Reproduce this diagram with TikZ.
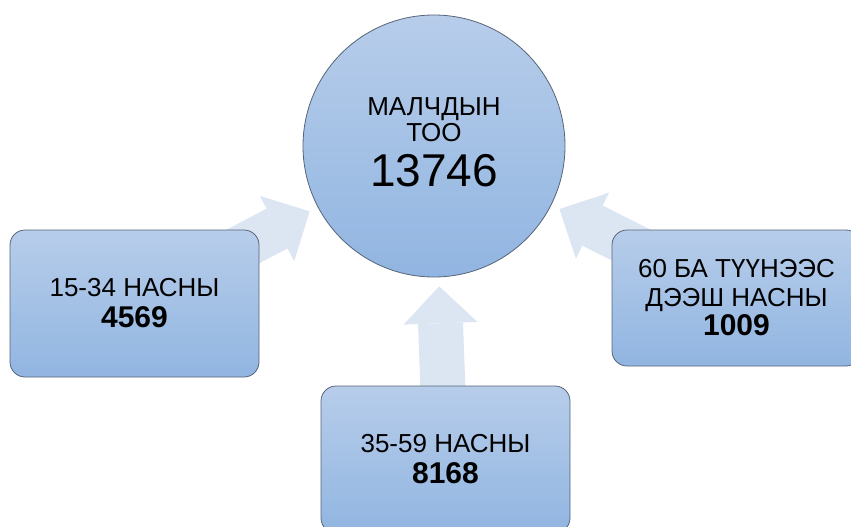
\documentclass[tikz,border=0pt]{standalone}
\usepackage{fontspec}
\setmainfont{Liberation Sans}
\usetikzlibrary{shapes,backgrounds}
\usetikzlibrary{arrows.meta}
\definecolor{fillTop}{RGB}{183,205,234}
\definecolor{fillBot}{RGB}{145,181,225}
\definecolor{edgeGray}{RGB}{85,100,120}
\definecolor{arrowFill}{RGB}{220,230,243}

\begin{document}
\begin{tikzpicture}[x=1pt,y=-1pt,
  agebox/.style={draw=edgeGray, line width=.8pt, rounded corners=15pt, top color=fillTop, bottom color=fillBot,
    minimum width=249pt, minimum height=147pt, inner sep=0pt, align=center, font=\fontsize{26}{31}\selectfont},
  bigarrow/.style={draw=arrowFill, line width=45pt, shorten >=9pt,
    -{Triangle[width=74pt,length=37pt,line width=0pt,fill=arrowFill]}}]
\useasboundingbox (0,0) rectangle (851,527);
\node[draw=edgeGray, line width=.8pt, circle, top color=fillTop, bottom color=fillBot, minimum size=262pt,
  inner sep=0pt, text depth=8pt, align=center, font=\fontsize{26}{26}\selectfont] (hub) at (434,146)
  {МАЛЧДЫН\\ТОО\\[12pt]{\fontsize{46}{46}\selectfont 13746}};
\node[agebox] (young) at (134.5,303.5) {15-34 НАСНЫ\\\textbf{\fontsize{30}{31}\selectfont 4569}};
\node[agebox] (middle) at (445.5,459.5) {35-59 НАСНЫ\\\textbf{\fontsize{30}{31}\selectfont 8168}};
\node[agebox, minimum height=136pt, font=\fontsize{26}{29}\selectfont] (old) at (736.5,298)
  {60 БА ТҮҮНЭЭС\\ДЭЭШ НАСНЫ\\\textbf{\fontsize{30}{29}\selectfont 1009}};
% arrows behind the boxes
\begin{scope}[on background layer]
\draw[bigarrow] (young.center) -- (hub);
\draw[bigarrow] (middle.center) -- (hub);
\draw[bigarrow] (old.center) -- (hub);
\end{scope}
\end{tikzpicture}
\end{document}
